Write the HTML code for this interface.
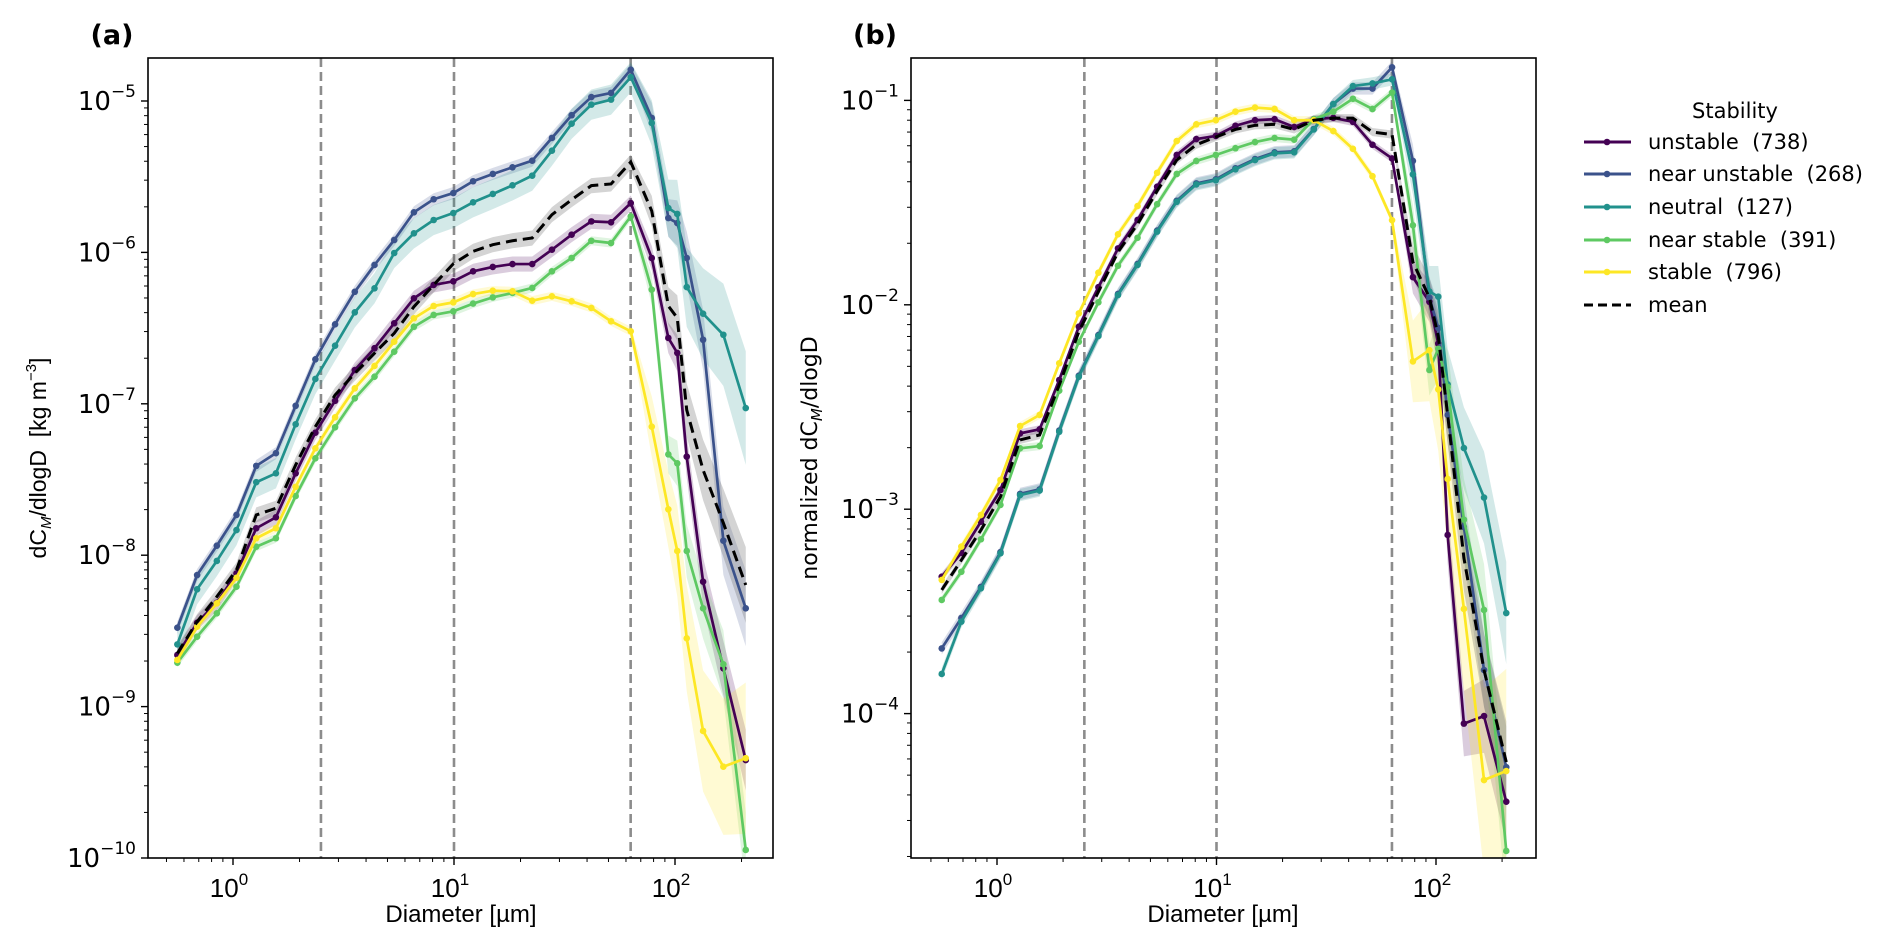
<!DOCTYPE html>
<html><head><meta charset="utf-8"><style>
html,body{margin:0;padding:0;background:#fff;}
svg{display:block;font-family:"DejaVu Sans","Liberation Sans",sans-serif;}
text{white-space:pre;}
</style></head><body>
<svg id="fig" width="1892" height="949" viewBox="0 0 1892 949" xmlns="http://www.w3.org/2000/svg">
<rect width="1892" height="949" fill="#fff"/>
<text x="112" y="44" font-size="27" font-weight="bold" text-anchor="middle">(a)</text>
<text x="875" y="44" font-size="27" font-weight="bold" text-anchor="middle">(b)</text>
<g id="pa"></g>
<g id="pb"></g>
<text transform="translate(46,458) rotate(-90)" font-size="23" font-family="Liberation Sans, sans-serif" text-anchor="middle">dC<tspan font-size="15" font-style="italic" dy="5">M</tspan><tspan dy="-5">/dlogD  [kg m</tspan><tspan font-size="15" dy="-10">−3</tspan><tspan dy="10">]</tspan></text>
<text transform="translate(817,458) rotate(-90)" font-size="22" text-anchor="middle">normalized dC<tspan font-size="15" font-style="italic" dy="5">M</tspan><tspan dy="-5">/dlogD</tspan></text>
<text x="461" y="922" font-size="24" font-family="Liberation Sans, sans-serif" text-anchor="middle">Diameter [µm]</text>
<text x="1223" y="922" font-size="24" font-family="Liberation Sans, sans-serif" text-anchor="middle">Diameter [µm]</text>
<g id="legend"></g>
</svg>
<script>
const diameters=[0.56,0.688,0.845,1.037,1.274,1.564,1.921,2.359,2.897,3.557,4.368,5.364,6.587,8.09,9.93,12.2,14.98,18.39,22.59,27.74,34.06,41.83,51.36,63.07,78.5,93.3,102.4,113,134,165.5,209];
const seriesNames=["unstable  (738)","near unstable  (268)","neutral  (127)","near stable  (391)","stable  (796)"];
const vlines=[2.5,10,63];
const yTickExpA=[-5,-6,-7,-8,-9,-10];
const yTickExpB=[-1,-2,-3,-4];
const xTickExp=[0,1,2];
// panel a: log10 of dCM/dlogD
const aUnstable=[-8.659,-8.446,-8.314,-8.120,-7.822,-7.750,-7.459,-7.191,-6.980,-6.777,-6.633,-6.468,-6.303,-6.215,-6.191,-6.125,-6.096,-6.077,-6.077,-5.982,-5.883,-5.795,-5.801,-5.674,-6.037,-6.565,-6.664,-7.349,-8.175,-8.747,-9.353];
const aNearUnstable=[-8.479,-8.131,-7.937,-7.734,-7.410,-7.326,-7.013,-6.706,-6.475,-6.260,-6.083,-5.918,-5.735,-5.649,-5.608,-5.530,-5.482,-5.438,-5.394,-5.244,-5.094,-4.974,-4.947,-4.793,-5.112,-5.773,-5.806,-6.037,-6.577,-7.904,-8.351];
const aNeutral=[-8.589,-8.225,-8.038,-7.834,-7.518,-7.459,-7.135,-6.836,-6.616,-6.396,-6.237,-6.004,-5.874,-5.786,-5.740,-5.669,-5.614,-5.557,-5.493,-5.328,-5.150,-5.024,-4.991,-4.843,-5.145,-5.707,-5.746,-6.229,-6.405,-6.544,-7.028];
const aNearStable=[-8.710,-8.538,-8.384,-8.208,-7.944,-7.888,-7.609,-7.360,-7.155,-6.964,-6.821,-6.656,-6.491,-6.413,-6.389,-6.338,-6.297,-6.268,-6.235,-6.125,-6.037,-5.923,-5.938,-5.762,-6.246,-7.334,-7.393,-7.972,-8.351,-8.721,-9.947];
const aStable=[-8.692,-8.472,-8.318,-8.149,-7.888,-7.822,-7.548,-7.294,-7.089,-6.898,-6.750,-6.590,-6.435,-6.354,-6.330,-6.275,-6.253,-6.257,-6.319,-6.290,-6.323,-6.367,-6.455,-6.521,-7.151,-7.697,-7.972,-8.549,-9.161,-9.397,-9.341];
const aMean=[-8.648,-8.439,-8.274,-8.098,-7.734,-7.690,-7.404,-7.151,-6.942,-6.799,-6.666,-6.534,-6.359,-6.215,-6.075,-5.993,-5.949,-5.923,-5.905,-5.751,-5.652,-5.559,-5.548,-5.403,-5.727,-6.354,-6.433,-7.041,-7.437,-7.787,-8.197];
// panel b: log10 of normalized dCM/dlogD
const bUnstable=[-3.330,-3.214,-3.061,-2.906,-2.629,-2.609,-2.368,-2.107,-1.914,-1.724,-1.585,-1.422,-1.267,-1.189,-1.174,-1.124,-1.097,-1.092,-1.130,-1.092,-1.085,-1.105,-1.217,-1.284,-1.865,-1.985,-2.190,-3.126,-4.049,-4.012,-4.431];
const bNearUnstable=[-3.681,-3.532,-3.380,-3.210,-2.925,-2.903,-2.615,-2.347,-2.148,-1.947,-1.800,-1.637,-1.491,-1.406,-1.386,-1.332,-1.287,-1.254,-1.249,-1.140,-1.018,-0.942,-0.942,-0.838,-1.296,-1.965,-2.113,-2.539,-3.087,-3.787,-4.262];
const bNeutral=[-3.806,-3.550,-3.387,-3.216,-2.931,-2.909,-2.621,-2.352,-2.153,-1.952,-1.805,-1.642,-1.496,-1.411,-1.391,-1.337,-1.292,-1.259,-1.254,-1.142,-1.018,-0.930,-0.917,-0.897,-1.362,-1.935,-1.960,-2.389,-2.701,-2.943,-3.508];
const bNearStable=[-3.444,-3.306,-3.147,-2.979,-2.702,-2.691,-2.420,-2.181,-1.988,-1.809,-1.672,-1.508,-1.360,-1.296,-1.267,-1.234,-1.204,-1.184,-1.192,-1.092,-1.055,-0.992,-1.042,-0.962,-1.611,-2.319,-2.215,-2.402,-3.051,-3.493,-4.672];
const bStable=[-3.346,-3.183,-3.028,-2.857,-2.593,-2.539,-2.286,-2.042,-1.843,-1.655,-1.517,-1.354,-1.199,-1.117,-1.097,-1.055,-1.035,-1.042,-1.097,-1.097,-1.150,-1.237,-1.371,-1.586,-2.277,-2.222,-2.414,-2.852,-3.488,-4.325,-4.281];
const bMean=[-3.395,-3.249,-3.102,-2.939,-2.661,-2.637,-2.392,-2.132,-1.936,-1.742,-1.605,-1.443,-1.292,-1.217,-1.179,-1.142,-1.122,-1.117,-1.142,-1.097,-1.087,-1.087,-1.155,-1.167,-1.791,-1.965,-2.153,-2.539,-3.239,-3.787,-4.237];

const NS="http://www.w3.org/2000/svg";
const colors=["#440154","#3b528b","#21918c","#5ec962","#fde725"];
function mk(tag,attrs,parent){const e=document.createElementNS(NS,tag);for(const k in attrs)e.setAttribute(k,attrs[k]);parent.appendChild(e);return e;}

function panel(g,cfg){
  const {L,R,T,B,x0,dx,y0,ydec,topExp,yTicks,seriesList,mean,bandW,panelId}=cfg;
  const X=v=>x0+dx*Math.log10(v);
  const Y=e=>y0+(topExp-e)*ydec;
  const clipId="clip"+panelId;
  const cp=mk("clipPath",{id:clipId},g);mk("rect",{x:L,y:T,width:R-L,height:B-T},cp);
  const plot=mk("g",{"clip-path":"url(#"+clipId+")"},g);
  vlines.forEach(v=>{const l=mk("line",{x1:X(v),x2:X(v),y1:T,y2:B,stroke:"#8c8c8c","stroke-width":2.6,"stroke-dasharray":"9,5"},plot);
    
    });
  const all=seriesList.map((s,i)=>({vals:s,color:colors[i],name:seriesNames[i]}));
  all.concat([{vals:mean,color:"#000",name:"mean",isMean:true}]).forEach((s,si)=>{
    const w=bandW[si];
    const up=[],dn=[];
    s.vals.forEach((v,i)=>{const h=i<24?w[0]:w[1]*(1+(i-24)*0.25);up.push(X(diameters[i])+","+Y(v+h));dn.unshift(X(diameters[i])+","+Y(v-h));});
    const p=mk("polygon",{points:up.concat(dn).join(" "),fill:s.isMean?"#555":s.color,"fill-opacity":s.isMean?0.25:0.2,stroke:"none"},plot);
    
    
  });
  all.forEach(s=>{
    const pts=s.vals.map((v,i)=>X(diameters[i])+","+Y(v)).join(" ");
    const pl=mk("polyline",{points:pts,fill:"none",stroke:s.color,"stroke-width":2.7,"stroke-linejoin":"round"},plot);
    
    
    s.vals.forEach((v,i)=>{const c=mk("circle",{cx:X(diameters[i]),cy:Y(v),r:3.3,fill:s.color},plot);
      
      });
  });
  const mp=mk("polyline",{points:mean.map((v,i)=>X(diameters[i])+","+Y(v)).join(" "),fill:"none",stroke:"#000","stroke-width":3,"stroke-dasharray":"11,6"},plot);
  
  
  mk("rect",{x:L,y:T,width:R-L,height:B-T,fill:"none",stroke:"#000","stroke-width":1.6},g);
  for(let e=-1;e<=2;e++){for(let m=1;m<10;m++){const v=m*Math.pow(10,e);const x=X(v);if(x<L||x>R)continue;
    mk("line",{x1:x,x2:x,y1:B,y2:B+(m===1?7:4),stroke:"#000","stroke-width":m===1?1.4:1},g);}}
  xTickExp.forEach(e=>{const t=mk("text",{x:X(Math.pow(10,e))-4,y:B+39,"font-size":26,"text-anchor":"middle","font-family":"Liberation Sans, sans-serif"},g);
    
    
    t.textContent="10";const ts=mk("tspan",{"font-size":17,dy:-12},t);ts.textContent=String(e);});
  for(let e=topExp+1;e>=-11;e--){for(let m=1;m<10;m++){const le=e+Math.log10(m);const y=Y(le);if(y<T-0.5||y>B+0.5)continue;
    mk("line",{x1:L,x2:L-(m===1?7:4),y1:y,y2:y,stroke:"#000","stroke-width":m===1?1.4:1},g);}}
  yTicks.forEach(e=>{const t=mk("text",{x:L-12,y:Y(e)+9,"font-size":26,"text-anchor":"end"},g);
    
    
    t.textContent="10";const ts=mk("tspan",{"font-size":17,dy:-13},t);ts.textContent="−"+Math.abs(e);});
}
panel(document.getElementById("pa"),{panelId:"a",L:148,R:773,T:58,B:858,x0:233,dx:221,y0:101,ydec:151.4,topExp:-5,yTicks:yTickExpA,
  seriesList:[aUnstable,aNearUnstable,aNeutral,aNearStable,aStable],mean:aMean,
  bandW:[[0.05,0.08],[0.04,0.1],[0.1,0.15],[0.03,0.1],[0.03,0.2],[0.05,0.1]]});
panel(document.getElementById("pb"),{panelId:"b",L:911,R:1536,T:58,B:858,x0:997,dx:219.5,y0:100.4,ydec:204.4,topExp:-1,yTicks:yTickExpB,
  seriesList:[bUnstable,bNearUnstable,bNeutral,bNearStable,bStable],mean:bMean,
  bandW:[[0.02,0.08],[0.03,0.08],[0.03,0.1],[0.02,0.1],[0.02,0.2],[0.02,0.08]]});
const lg=document.getElementById("legend");
const tt=mk("text",{x:1735,y:118,"font-size":21,"text-anchor":"middle"},lg);tt.textContent="Stability";


const ly=[142,174,207,240,272,305];
seriesNames.concat(["mean"]).forEach((n,i)=>{
  const g=mk("g",{},lg);
  
  
  if(i<5){mk("line",{x1:1584,x2:1631,y1:ly[i],y2:ly[i],stroke:colors[i],"stroke-width":3},g);mk("circle",{cx:1607,cy:ly[i],r:3.3,fill:colors[i]},g);}
  else mk("line",{x1:1584,x2:1631,y1:ly[i],y2:ly[i],stroke:"#000","stroke-width":3,"stroke-dasharray":"9,5"},g);
  const t=mk("text",{x:1648,y:ly[i]+7,"font-size":21},g);t.textContent=n;
});
</script>
</body></html>
